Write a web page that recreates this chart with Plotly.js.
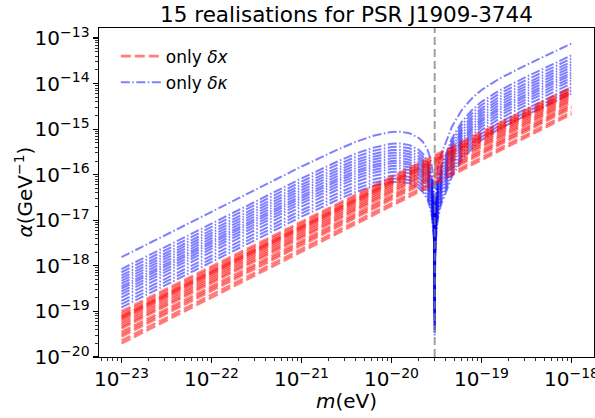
<!DOCTYPE html>
<html>
<head>
<meta charset="utf-8">
<script src="https://cdn.plot.ly/plotly-3.0.1.min.js"></script>
<style>
  html, body { margin: 0; padding: 0; background: #fff; }
  #chart { width: 595px; height: 418px; }
</style>
</head>
<body>
<div id="chart"></div>
<script>
// ---- data (log10 values) ----
// mass grid, log10(m / eV)
const massExponent = [-23, -22, -21, -20.6, -20.4, -20.2, -20.0, -19.9, -19.8, -19.7, -19.65, -19.6,
  -19.57, -19.55, -19.54, -19.53, -19.525, -19.52, -19.515, -19.51, -19.5, -19.48, -19.45, -19.4,
  -19.33, -19.22, -19.1, -19.0, -18.8, -18.5, -18.0];
// only δκ : profile log10(α(m)/α(1e-23 eV)) (common to all realisations)
const blueProfile = [0, 1.00, 1.99, 2.36, 2.53, 2.665, 2.75, 2.755, 2.72, 2.62, 2.53, 2.36,
  2.18, 1.97, 1.80, 1.51, 1.21, -0.62, 1.085, 1.39, 1.70, 2.00, 2.25, 2.50,
  2.86, 3.23, 3.50, 3.67, 3.92, 4.22, 4.69];
// only δκ : log10 α at m = 1e-23 eV, one per realisation
const blueAlphaStart = [-17.81, -18.07, -18.14, -18.21, -18.27, -18.33, -18.39, -18.45, -18.50,
  -18.56, -18.62, -18.69, -18.77, -18.84, -18.91];
// only δx : straight lines, log10 α at m = 1e-23 eV and at m = 1e-18 eV
const redMassExponent = [-23, -18];
const redAlphaStart = [-19.00, -19.05, -19.10, -19.12, -19.15, -19.18, -19.23, -19.28, -19.33,
  -19.37, -19.45, -19.50, -19.55, -19.64, -19.70];
const redAlphaEnd = [-14.08, -14.12, -14.16, -14.18, -14.21, -14.24, -14.28, -14.32, -14.36,
  -14.40, -14.46, -14.50, -14.54, -14.62, -14.67];
// resonance mass (dashed grey line), log10(m / eV)
const resonanceExponent = -19.52;
const titleText = '15 realisations for PSR J1909-3744';
const xLabel = '<i>m</i>(eV)';
const yLabel = '<i>α</i>(GeV<sup>−1</sup>)';
const legendLabels = ['only <i>δx</i>', 'only <i>δκ</i>'];

// ---- build traces ----
const toPow = v => Math.pow(10, v);
const traces = [];
const massBlue = massExponent.map(toPow);
blueAlphaStart.forEach((a0, i) => {
  traces.push({
    x: massBlue,
    y: blueProfile.map(p => toPow(a0 + p)),
    type: 'scatter', mode: 'lines',
    line: { color: 'rgba(0,0,255,0.5)', width: 2, dash: '9px,2.5px,1.5px,2.5px' },
    name: legendLabels[1], legendgroup: 'kappa', legendrank: 2,
    showlegend: i === 0, hoverinfo: 'skip'
  });
});
redAlphaStart.forEach((a0, i) => {
  traces.push({
    x: redMassExponent.map(toPow),
    y: [toPow(a0), toPow(redAlphaEnd[i])],
    type: 'scatter', mode: 'lines',
    line: { color: 'rgba(255,0,0,0.5)', width: 2.6, dash: '10px,4px' },
    name: legendLabels[0], legendgroup: 'x', legendrank: 1,
    showlegend: i === 0, hoverinfo: 'skip'
  });
});

const font = { family: 'DejaVu Sans, sans-serif', color: '#000' };
const axisCommon = {
  type: 'log',
  showgrid: false, zeroline: false,
  showline: true, linecolor: '#000', linewidth: 1.2, mirror: true,
  ticks: 'outside', ticklen: 5, tickwidth: 1.1, tickcolor: '#000',
  dtick: 1, exponentformat: 'power', ticklabeloverflow: 'allow',
  tickfont: { family: font.family, size: 16, color: '#000' },
  minor: { ticks: 'outside', ticklen: 3, tickwidth: 0.8, tickcolor: '#000', dtick: 'D1', showgrid: false }
};

const layout = {
  width: 595, height: 418,
  margin: { l: 99, r: 1, t: 28, b: 61 },
  paper_bgcolor: '#fff', plot_bgcolor: '#fff',
  font: font,
  title: { text: titleText, font: { family: font.family, size: 21.5, color: '#000' },
           x: 0.5, xref: 'paper', xanchor: 'center', y: 1 - 14 / 418, yref: 'container', yanchor: 'middle' },
  xaxis: Object.assign({}, axisCommon, { range: [-23.25, -17.75] }),
  yaxis: Object.assign({}, axisCommon, { range: [-20, -12.78] }),
  annotations: [
    { text: xLabel, xref: 'paper', yref: 'paper', x: 0.5, y: -44 / 329, xanchor: 'center', yanchor: 'middle',
      showarrow: false, font: { family: font.family, size: 20, color: '#000' } },
    { text: yLabel, xref: 'paper', yref: 'paper', x: -76 / 495, y: 0.5, xanchor: 'center', yanchor: 'middle',
      textangle: -90, showarrow: false, font: { family: font.family, size: 20, color: '#000' } }
  ],
  showlegend: true,
  legend: {
    x: 0.034, y: 0.968, xanchor: 'left', yanchor: 'top',
    bgcolor: 'rgba(255,255,255,0)', borderwidth: 0,
    font: { family: font.family, size: 17, color: '#000' },
    traceorder: 'grouped', tracegroupgap: 1, itemwidth: 40
  },
  shapes: [{
    type: 'line', xref: 'x', yref: 'paper',
    x0: toPow(resonanceExponent), x1: toPow(resonanceExponent), y0: 0, y1: 1,
    line: { color: 'rgba(128,128,128,0.75)', width: 2, dash: '8px,4px' },
    layer: 'above'
  }]
};

Plotly.newPlot('chart', traces, layout, { staticPlot: true, displayModeBar: false });
</script>
</body>
</html>
